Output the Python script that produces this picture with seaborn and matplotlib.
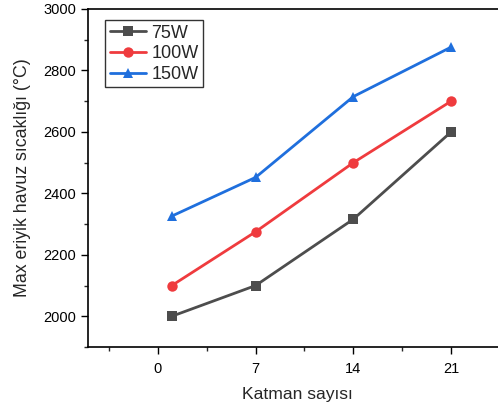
import matplotlib
matplotlib.use("Agg")
import matplotlib.pyplot as plt
from matplotlib.ticker import MultipleLocator
import seaborn as sns
import pandas as pd

katman = [1, 7, 14, 21]
w75 = [2000, 2100, 2316, 2600]
w100 = [2100, 2275, 2500, 2700]
w150 = [2326, 2452, 2715, 2876]
series_names = ["75W", "100W", "150W"]
xtick_vals = [0, 7, 14, 21]

df = pd.DataFrame({
    "x": katman * 3,
    "y": w75 + w100 + w150,
    "s": [series_names[0]] * 4 + [series_names[1]] * 4 + [series_names[2]] * 4,
})

sns.set_theme(style="ticks")
plt.rcParams["font.family"] = ["Liberation Sans", "DejaVu Sans"]

fig = plt.figure(figsize=(4.98, 4.05), dpi=100)
ax = fig.add_axes([88 / 498, 58 / 405, (507 - 88) / 498, (347 - 9) / 405])

palette = {"75W": "#4d4d4d", "100W": "#ef3b3e", "150W": "#1f6fdd"}
markers = {"75W": "s", "100W": "o", "150W": "^"}
sns.lineplot(data=df, x="x", y="y", hue="s", style="s", palette=palette,
             markers=markers, dashes=False, linewidth=2.0, markersize=7.5,
             markeredgewidth=0, ax=ax)

ax.set_xlim(-5, 25)
ax.set_ylim(1900, 3000)
ax.set_xticks(xtick_vals)
ax.xaxis.set_minor_locator(MultipleLocator(3.5))
ax.yaxis.set_major_locator(MultipleLocator(200))
ax.yaxis.set_minor_locator(MultipleLocator(100))
ax.tick_params(which="major", direction="out", length=5, width=1, labelsize=10.5, colors="black")
ax.tick_params(which="minor", direction="out", length=3, width=1)
ax.tick_params(axis="x", pad=6)
for sp in ax.spines.values():
    sp.set_linewidth(1.2)
    sp.set_color("black")
ax.spines["right"].set_visible(False)

ax.set_xlabel("Katman sayısı", fontsize=12.6, labelpad=8)
ax.set_ylabel("Max eriyik havuz sıcaklığı (°C)", fontsize=12.8, labelpad=9)

leg = ax.legend(loc="upper left", bbox_to_anchor=(0.041, 0.967), fontsize=13,
                frameon=True, fancybox=False, edgecolor="black", handlelength=2.0,
                borderpad=0.25, labelspacing=0.2, handletextpad=0.3, borderaxespad=0)
leg.get_frame().set_linewidth(1.0)
leg.set_title(None)

fig.savefig("out.png", dpi=100)
